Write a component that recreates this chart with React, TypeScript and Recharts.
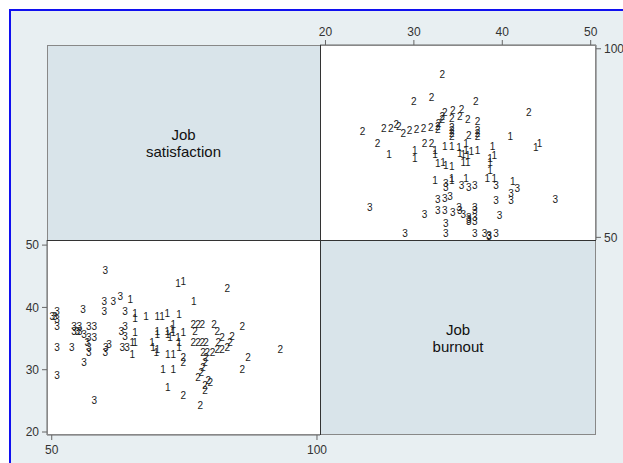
import React from 'react';
import { ScatterChart, Scatter, XAxis, YAxis } from 'recharts';

// Group 1
const group1Satisfaction = [64.8, 65.7, 65.7, 67.8, 69.9, 70.8, 71.8, 74.0, 73.8, 74.8, 76.8, 72.9, 72.7, 69.9, 69.9, 71.8, 71.9, 72.3, 72.9, 74.8, 73.8, 74.0, 74.0, 65.7, 65.2, 65.7, 68.9, 69.1, 69.9, 69.7, 65.2, 71.9, 72.9, 71.0, 72.9, 71.9];
const group1Burnout = [41.2, 39.1, 38.3, 38.6, 38.6, 38.6, 39.1, 38.9, 43.8, 44.2, 40.9, 37.2, 36.5, 36.1, 35.6, 36.1, 35.6, 35.2, 35.9, 35.9, 35.1, 34.3, 33.5, 35.9, 34.3, 34.3, 34.3, 33.6, 33.3, 32.7, 32.4, 32.4, 32.4, 30.1, 30.1, 27.2];

// Group 2
const group2Satisfaction = [83.1, 85.9, 93.1, 87.0, 85.9, 74.8, 74.8, 74.8, 78.0, 78.9, 78.9, 79.5, 77.6, 78.5, 78.2, 76.7, 77.6, 78.4, 80.6, 77.0, 81.2, 82.1, 84.0, 76.7, 77.6, 78.4, 79.1, 81.4, 83.6, 78.5, 79.3, 80.3, 81.2, 82.1, 83.1, 79.1, 78.9, 79.9];
const group2Burnout = [43.0, 37.0, 33.2, 32.0, 30.0, 32.0, 31.2, 25.9, 24.2, 26.6, 27.4, 28.3, 28.8, 30.3, 29.5, 37.2, 37.2, 37.2, 37.2, 36.2, 36.1, 35.2, 35.4, 34.3, 34.3, 34.3, 34.3, 34.3, 34.4, 32.7, 32.7, 32.8, 33.2, 33.2, 33.5, 31.9, 31.1, 28.0];

// Group 3
const group3Satisfaction = [60.1, 59.9, 61.6, 62.9, 55.9, 59.9, 63.8, 51.0, 50.1, 50.6, 51.0, 51.0, 54.2, 55.2, 57.0, 58.0, 54.2, 54.8, 55.3, 56.1, 57.0, 58.0, 63.8, 63.1, 63.8, 51.0, 53.8, 56.7, 57.0, 57.0, 60.1, 60.2, 60.8, 63.3, 64.2, 56.1, 51.0, 58.0];
const group3Burnout = [46.0, 41.0, 41.0, 41.7, 39.7, 39.3, 39.3, 39.3, 38.5, 38.5, 38.0, 36.9, 36.9, 36.9, 36.9, 36.9, 36.2, 36.2, 36.2, 35.6, 35.2, 35.1, 36.9, 36.2, 35.4, 33.6, 33.6, 34.4, 33.5, 32.7, 32.7, 33.5, 34.1, 33.6, 33.6, 31.2, 29.0, 25.0];

const groupLabels = ['1', '2', '3'];
const satisfactionTicks = [50, 100];
const burnoutTicks = [20, 30, 40, 50];
const variableNames = [['Job', 'satisfaction'], ['Job', 'burnout']];

const build = (sat: number[], burn: number[]) => sat.map((s, i) => ({ sat: s, burn: burn[i] }));
const groups = [
  { label: groupLabels[0], data: build(group1Satisfaction, group1Burnout) },
  { label: groupLabels[1], data: build(group2Satisfaction, group2Burnout) },
  { label: groupLabels[2], data: build(group3Satisfaction, group3Burnout) },
];

const FONT = '"Liberation Sans", Arial, Helvetica, sans-serif';

const makeShape = (label: string) => (props: any) => {
  const { cx, cy } = props;
  if (cx == null || cy == null) return <g />;
  return (
    <text x={cx} y={cy} textAnchor="middle" dominantBaseline="central" fontSize={10} fill="#1a1a1a" fontFamily={FONT}>
      {label}
    </text>
  );
};

const axisStroke = '#666';
const tickStyle = { fill: '#333', fontSize: 12, fontFamily: FONT };

const panelBorder = '1px solid #555';

export default function App() {
  return (
    <div style={{ position: 'fixed', left: 0, top: 0, width: 623, height: 463, overflow: 'hidden', background: '#fff', fontFamily: FONT }}>
      {/* outer frame */}
      <div style={{ position: 'absolute', left: 9, top: 9, width: 700, height: 600, boxSizing: 'border-box', border: '2px solid #1010f0', background: '#e8eff2' }} />
      {/* plot region */}
      <div style={{ position: 'absolute', left: 47, top: 45, width: 549, height: 390, background: '#fff' }} />
      {/* label panels */}
      <div style={{ position: 'absolute', left: 47, top: 45, width: 273, height: 195, background: '#d9e4ea', display: 'flex', alignItems: 'center', justifyContent: 'center', flexDirection: 'column', fontSize: 15, color: '#111', lineHeight: '17px' }}>
        <div>{variableNames[0][0]}</div>
        <div>{variableNames[0][1]}</div>
      </div>
      <div style={{ position: 'absolute', left: 320, top: 240, width: 276, height: 195, background: '#d9e4ea', display: 'flex', alignItems: 'center', justifyContent: 'center', flexDirection: 'column', fontSize: 15, color: '#111', lineHeight: '17px' }}>
        <div>{variableNames[1][0]}</div>
        <div>{variableNames[1][1]}</div>
      </div>

      {/* bottom-left: x = satisfaction, y = burnout */}
      <div style={{ position: 'absolute', left: 0, top: 200 }}>
        <ScatterChart width={330} height={263} margin={{ top: 40, right: 10, bottom: 0, left: 0 }}>
          <XAxis
            xAxisId="b"
            type="number"
            dataKey="sat"
            domain={[49.11, 100.57]}
            allowDataOverflow
            ticks={satisfactionTicks}
            interval={0}
            height={28}
            tickSize={5}
            tickMargin={5}
            axisLine={{ stroke: axisStroke }}
            tickLine={{ stroke: axisStroke }}
            tick={tickStyle}
          />
          <YAxis
            yAxisId="l"
            type="number"
            dataKey="burn"
            domain={[19.52, 50.82]}
            allowDataOverflow
            ticks={burnoutTicks}
            interval={0}
            width={47}
            tickSize={5}
            tickMargin={3}
            axisLine={{ stroke: axisStroke }}
            tickLine={{ stroke: axisStroke }}
            tick={tickStyle}
          />
          {groups.map((g) => (
            <Scatter key={g.label} xAxisId="b" yAxisId="l" data={g.data} shape={makeShape(g.label)} isAnimationActive={false} />
          ))}
        </ScatterChart>
      </div>

      {/* top-right: x = burnout, y = satisfaction */}
      <div style={{ position: 'absolute', left: 310, top: 0 }}>
        <ScatterChart width={313} height={250} margin={{ top: 0, right: 0, bottom: 10, left: 10 }}>
          <XAxis
            xAxisId="t"
            orientation="top"
            type="number"
            dataKey="burn"
            domain={[19.38, 50.6]}
            allowDataOverflow
            ticks={burnoutTicks}
            interval={0}
            height={45}
            tickSize={5}
            tickMargin={4}
            axisLine={{ stroke: axisStroke }}
            tickLine={{ stroke: axisStroke }}
            tick={tickStyle}
          />
          <YAxis
            yAxisId="r"
            orientation="right"
            type="number"
            dataKey="sat"
            domain={[49.3, 101.0]}
            allowDataOverflow
            ticks={satisfactionTicks}
            interval={0}
            width={27}
            tickSize={5}
            tickMargin={3}
            axisLine={{ stroke: axisStroke }}
            tickLine={{ stroke: axisStroke }}
            tick={tickStyle}
          />
          {groups.map((g) => (
            <Scatter key={g.label} xAxisId="t" yAxisId="r" data={g.data} shape={makeShape(g.label)} isAnimationActive={false} />
          ))}
        </ScatterChart>
      </div>

      {/* panel borders */}
      <div style={{ position: 'absolute', left: 47, top: 45, width: 549, height: 390, boxSizing: 'border-box', border: '1px solid #888', pointerEvents: 'none' }} />
      <div style={{ position: 'absolute', left: 320, top: 45, width: 1, height: 390, background: '#333', pointerEvents: 'none' }} />
      <div style={{ position: 'absolute', left: 47, top: 240, width: 549, height: 1, background: '#333', pointerEvents: 'none' }} />
    </div>
  );
}
